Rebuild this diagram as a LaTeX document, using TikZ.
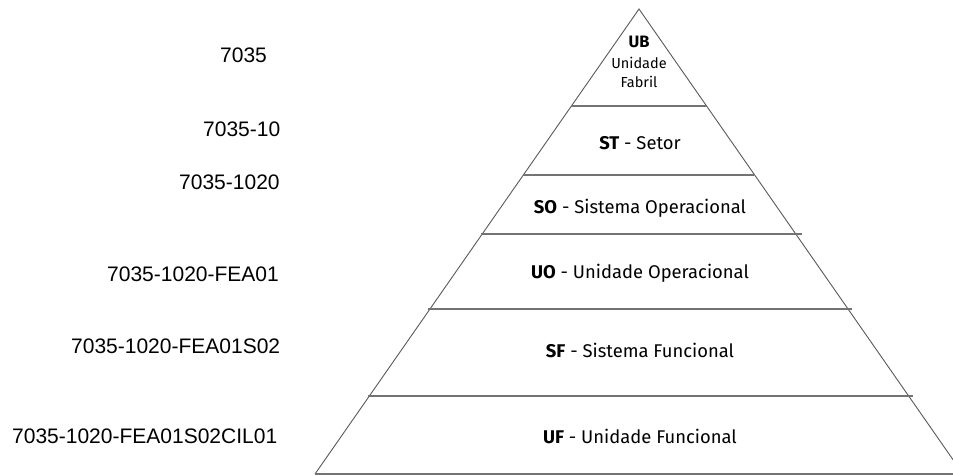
\documentclass[tikz,border=0pt]{standalone}
\usepackage{fontspec}
\setmainfont{Liberation Sans}
\newfontfamily\pyrfont{Fira Sans}
\tikzset{
  edge/.style={draw=black!65, line width=0.9pt},
  level/.style={draw=black!55, line width=1.2pt},
  code/.style={font=\fontsize{21}{24}\selectfont, anchor=base west, inner sep=0pt},
  tier/.style={font=\pyrfont\fontsize{18.4}{22}\selectfont, anchor=base, inner sep=0pt},
  toptier/.style={font=\pyrfont\fontsize{14.5}{18}\selectfont, anchor=base, inner sep=0pt}
}
\begin{document}
\begin{tikzpicture}[x=1pt,y=-1pt]
\useasboundingbox (0,0) rectangle (953,475);
\clip (0,0) rectangle (953,475);
% pyramid outline
\coordinate (apex) at (639,9);
\coordinate (bl) at (315,474);
\coordinate (br) at (963,474);
\draw[edge] (bl) -- (apex) -- (br);
\draw[level] (bl) -- (br);
% level separators
\coordinate (l1a) at (571,106); \coordinate (l1b) at (707,106);
\coordinate (l2a) at (523,175); \coordinate (l2b) at (754,175);
\coordinate (l3a) at (481,234); \coordinate (l3b) at (802,234);
\coordinate (l4a) at (428,309); \coordinate (l4b) at (852,309);
\coordinate (l5a) at (368,396); \coordinate (l5b) at (913,396);
\draw[level] (l1a) -- (l1b);
\draw[level] (l2a) -- (l2b);
\draw[level] (l3a) -- (l3b);
\draw[level] (l4a) -- (l4b);
\draw[level] (l5a) -- (l5b);
% tier labels
\node[toptier, font=\pyrfont\fontsize{16.5}{18}\selectfont] (ub) at (639,47) {\textbf{UB}};
\node[toptier] (ubname1) at (639,68) {Unidade};
\node[toptier] (ubname2) at (639,87) {Fabril};
\node[tier] (st) at (640,149) {\textbf{ST} - Setor};
\node[tier] (so) at (640,213) {\textbf{SO} - Sistema Operacional};
\node[tier] (uo) at (640,278) {\textbf{UO} - Unidade Operacional};
\node[tier] (sf) at (640,357) {\textbf{SF} - Sistema Funcional};
\node[tier] (uf) at (640,443) {\textbf{UF} - Unidade Funcional};
% codes
\node[code] (c1) at (220,62) {7035};
\node[code] (c2) at (203,136) {7035-10};
\node[code] (c3) at (179,189) {7035-1020};
\node[code] (c4) at (107,281) {7035-1020-FEA01};
\node[code] (c5) at (71,353) {7035-1020-FEA01S02};
\node[code] (c6) at (12,443) {7035-1020-FEA01S02CIL01};
\end{tikzpicture}
\end{document}
